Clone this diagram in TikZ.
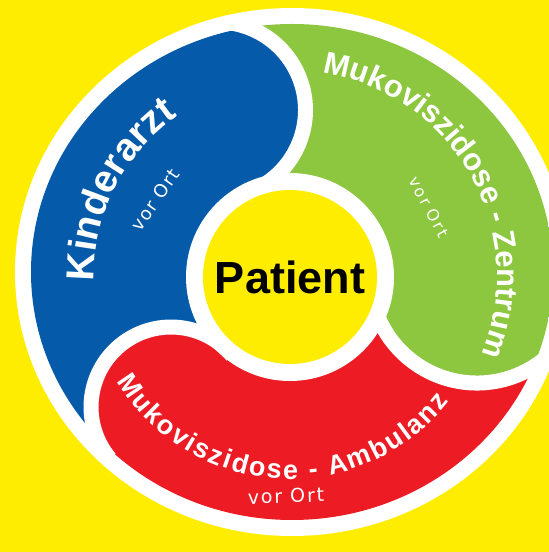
\documentclass[tikz,border=0pt]{standalone}
\usepackage{fontspec}
\setmainfont{Liberation Sans}
\newfontfamily\vorfont{DejaVu Sans}
\usetikzlibrary{decorations.text}
\definecolor{bgyellow}{RGB}{255,237,0}
\definecolor{cblue}{RGB}{6,90,170}
\definecolor{cgreen}{RGB}{141,198,63}
\definecolor{cred}{RGB}{237,28,36}
\tikzset{
  seam/.style={white, line width=15pt},
  vortext/.style={text=white, inner sep=0pt},
  bigtext/.style={decorate, decoration={text along path, text align=center, text color=white}}
}
\begin{document}
\begin{tikzpicture}[x=1pt,y=1pt]
\useasboundingbox (0,0) rectangle (549,552);
\fill[bgyellow] (0,0) rectangle (549,552);
\coordinate (O) at (290,275);
\fill[white] (292,280) ellipse [x radius=277, y radius=264];
\begin{scope}
\clip (292,280) ellipse [x radius=261, y radius=248];
\fill[cblue] (O) -- (247.6,359.3) arc[start angle=-70,end angle=110,radius=88] -- (80.7,817.9) -- (-400,817.9) -- (-400,-112.1) -- (-135.4,-112.1) -- (109.7,93.6) arc[start angle=220,end angle=40,radius=80] -- cycle;
\fill[cred] (O) -- (232.3,196.4) arc[start angle=40,end angle=220,radius=80] -- (-135.4,-112.1) -- (-135.4,-400) -- (783.4,-400) -- (783.4,18.9) -- (559,207.2) arc[start angle=320,end angle=190,radius=107] -- cycle;
\fill[cgreen] (O) -- (371.6,257.4) arc[start angle=190,end angle=320,radius=107] -- (783.4,18.9) -- (900,18.9) -- (900,900) -- (80.7,900) -- (80.7,817.9) -- (187.4,524.7) arc[start angle=110,end angle=-70,radius=88] -- cycle;
\end{scope}
\begin{scope}
\clip (292,280) ellipse [x radius=277, y radius=264];
\draw[seam] (247.6,359.3) arc[start angle=-70,end angle=110,radius=88];
\draw[seam] (371.6,257.4) arc[start angle=190,end angle=320,radius=107];
\draw[seam] (232.3,196.4) arc[start angle=40,end angle=220,radius=80];
\end{scope}
\fill[white] (O) circle (104);
\node[circle, fill=bgyellow, minimum size=174pt, inner sep=0pt, font=\bfseries\fontsize{45}{45}\selectfont] (patient) at (O) {Patient};
% curved titles
\path[bigtext, decoration={text={|\bfseries\fontsize{39}{39}\selectfont|Kinderarzt}}, shift={(290,275)}] (213:196) arc[start angle=213, end angle=93, radius=196];
\path[bigtext, decoration={text={|\bfseries\fontsize{31}{31}\selectfont|Mukoviszidose - Zentrum}}, shift={(290,275)}] (120:207) arc[start angle=120, end angle=-61, radius=207];
\path[decorate, decoration={text along path, text align=fit to path, text color=white, text={|\bfseries\fontsize{27}{27}\selectfont|Mukoviszidose - Ambulanz}}, shift={(290,275)}] (211:202) arc[start angle=211, end angle=322, radius=202];
% vor Ort
\node[vortext, rotate=55, font=\vorfont\addfontfeature{LetterSpace=8}\fontsize{18}{18}\selectfont] (vor1) at (155,352) {vor Ort};
\node[vortext, rotate=-62, font=\vorfont\addfontfeature{LetterSpace=12}\fontsize{16}{16}\selectfont] (vor2) at (429,345) {vor Ort};
\node[vortext, rotate=2, font=\vorfont\addfontfeature{LetterSpace=10}\fontsize{19}{19}\selectfont] (vor3) at (286,56) {vor Ort};
\end{tikzpicture}
\end{document}
